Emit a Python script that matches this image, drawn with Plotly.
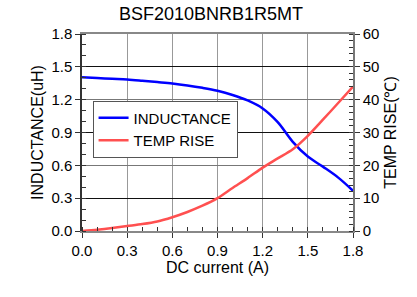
import plotly.graph_objects as go

current = [0.0, 0.1, 0.2, 0.3, 0.4, 0.5, 0.6, 0.7, 0.8, 0.9, 1.0, 1.1, 1.2, 1.3, 1.4, 1.5, 1.6, 1.7, 1.8]
inductance = [1.405, 1.398, 1.391, 1.384, 1.373, 1.361, 1.348, 1.330, 1.308, 1.281, 1.243,
              1.193, 1.120, 0.995, 0.815, 0.680, 0.588, 0.490, 0.368]
temp_rise = [0.0, 0.4, 0.9, 1.5, 2.1, 2.9, 4.2, 5.8, 7.7, 10.0, 13.1, 16.1, 19.3, 22.1,
             24.9, 29.0, 33.9, 38.9, 44.0]

x_ticks = [0.0, 0.3, 0.6, 0.9, 1.2, 1.5, 1.8]
y_ticks = [0.0, 0.3, 0.6, 0.9, 1.2, 1.5, 1.8]
y2_ticks = [0, 10, 20, 30, 40, 50, 60]

font = "Liberation Sans, Arial, sans-serif"

fig = go.Figure()
fig.add_trace(go.Scatter(x=current, y=inductance, name="INDUCTANCE", mode="lines",
                         line=dict(color="#0000ff", width=2.5, shape="spline", smoothing=1.0)))
fig.add_trace(go.Scatter(x=current, y=temp_rise, name="TEMP RISE", mode="lines", yaxis="y2",
                         line=dict(color="rgb(255,80,80)", width=2.5, shape="spline", smoothing=0.8)))

fig.update_layout(
    width=417, height=297,
    margin=dict(l=82, r=64, t=34, b=66),
    paper_bgcolor="white", plot_bgcolor="white",
    font=dict(family=font, size=15, color="#000"),
    title=dict(text="BSF2010BNRB1R5MT", x=0.506, xanchor="center", y=0.955, yanchor="middle",
               font=dict(size=18, family=font)),
    xaxis=dict(range=[0, 1.8], tickvals=x_ticks, ticktext=[f"{v:.1f}" for v in x_ticks],
               showgrid=True, gridcolor="#999", gridwidth=1.3,
               ticks="outside", ticklen=5, tickcolor="#333",
               minor=dict(dtick=0.1, ticks="inside", ticklen=4, tickcolor="#333", showgrid=False),
               showline=True, linecolor="#888", linewidth=1.5, mirror=True,
               title=dict(text="DC current (A)", standoff=2, font=dict(size=16)),
               zeroline=False, fixedrange=True),
    yaxis=dict(range=[0, 1.8], tickvals=y_ticks, ticktext=[f"{v:.1f}" for v in y_ticks],
               showgrid=True, gridcolor="#777", gridwidth=1.3,
               ticks="outside", ticklen=5, tickcolor="#333",
               minor=dict(dtick=0.1, ticks="inside", ticklen=4, tickcolor="#333", showgrid=False),
               showline=True, linecolor="#333", linewidth=1.5,
               title=dict(text="INDUCTANCE(uH)", standoff=4, font=dict(size=16)),
               zeroline=False, fixedrange=True),
    yaxis2=dict(range=[0, 60], tickvals=y2_ticks, overlaying="y", side="right",
                showgrid=False,
                ticks="outside", ticklen=5, tickcolor="#333",
                minor=dict(dtick=2, ticks="inside", ticklen=4, tickcolor="#333", showgrid=False),
                showline=True, linecolor="#777", linewidth=1.5,
                title=dict(text="TEMP RISE(℃)", standoff=6, font=dict(size=16)),
                zeroline=False, fixedrange=True),
    yaxis3=dict(range=[0, 1.8], tick0=0.3, dtick=0.6, overlaying="y", side="left",
                showgrid=True, gridcolor="#111", gridwidth=1.3, showticklabels=False,
                ticks="", showline=False, zeroline=False, fixedrange=True),
    legend=dict(x=0.039, y=0.662, xanchor="left", yanchor="top",
                bgcolor="white", bordercolor="#555", borderwidth=1,
                font=dict(size=15, family=font), itemwidth=30, tracegroupgap=2),
    showlegend=True,
)

# invisible trace on yaxis3 so its grid is drawn
fig.add_trace(go.Scatter(x=[None], y=[None], yaxis="y3", showlegend=False, hoverinfo="skip"))

fig.write_html("out.html", config={"displayModeBar": False},
               post_script="document.body.style.margin='0';")
